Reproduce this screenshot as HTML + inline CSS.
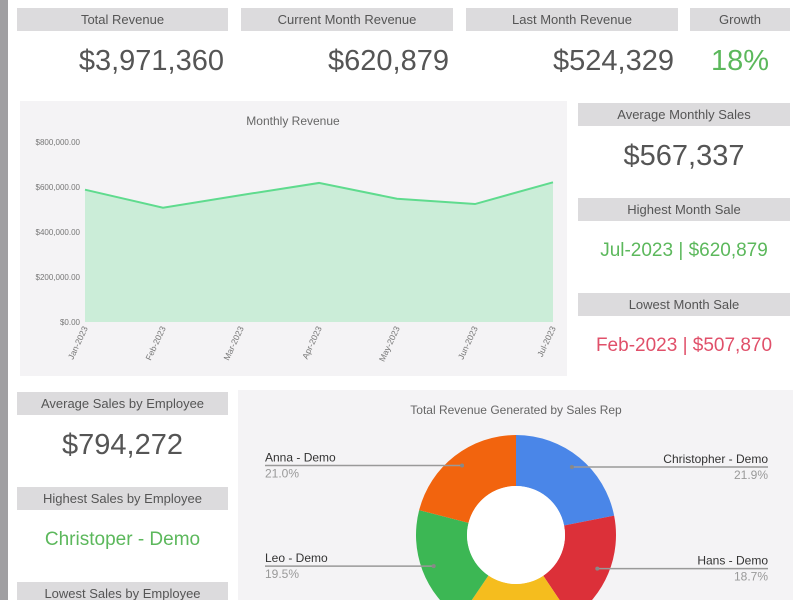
<!DOCTYPE html>
<html><head><meta charset="utf-8">
<style>
body{margin:0;width:800px;height:600px;overflow:hidden;background:#fff;font-family:"Liberation Sans",sans-serif;position:relative}
.strip{position:absolute;left:0;top:0;width:8px;height:600px;background:#a09fa2}
.hdr{position:absolute;height:23px;background:#dcdbdd;color:#555;font-size:13px;line-height:23px;text-align:center;overflow:hidden}
.val{position:absolute;font-size:29px;color:#555;line-height:32px}
.panel{position:absolute;background:#f4f3f5;overflow:hidden}
</style></head><body>
<div class="strip"></div>

<div class="hdr" style="left:17px;top:8px;width:211px">Total Revenue</div>
<div class="val" style="left:17px;top:45px;width:207px;text-align:right">$3,971,360</div>
<div class="hdr" style="left:241px;top:8px;width:212px">Current Month Revenue</div>
<div class="val" style="left:241px;top:45px;width:208px;text-align:right">$620,879</div>
<div class="hdr" style="left:466px;top:8px;width:212px">Last Month Revenue</div>
<div class="val" style="left:466px;top:45px;width:208px;text-align:right">$524,329</div>
<div class="hdr" style="left:690px;top:8px;width:100px">Growth</div>
<div class="val" style="left:690px;top:45px;width:100px;text-align:center;color:#5cb85c">18%</div>

<div class="hdr" style="left:578px;top:103px;width:212px">Average Monthly Sales</div>
<div class="val" style="left:578px;top:140px;width:212px;text-align:center">$567,337</div>
<div class="hdr" style="left:578px;top:198px;width:212px">Highest Month Sale</div>
<div class="val" style="left:578px;top:235px;width:212px;text-align:center;font-size:19px;color:#5cb85c">Jul-2023 | $620,879</div>
<div class="hdr" style="left:578px;top:293px;width:212px">Lowest Month Sale</div>
<div class="val" style="left:578px;top:330px;width:212px;text-align:center;font-size:19px;color:#e0506a">Feb-2023 | $507,870</div>

<div class="hdr" style="left:17px;top:392px;width:211px">Average Sales by Employee</div>
<div class="val" style="left:17px;top:429px;width:211px;text-align:center">$794,272</div>
<div class="hdr" style="left:17px;top:487px;width:211px">Highest Sales by Employee</div>
<div class="val" style="left:17px;top:524px;width:211px;text-align:center;font-size:19px;color:#5cb85c">Christoper - Demo</div>
<div class="hdr" style="left:17px;top:582px;width:211px;height:18px">Lowest Sales by Employee</div>

<div class="panel" style="left:20px;top:101px;width:547px;height:275px">
<svg id="area" width="547" height="275" style="position:absolute;left:0;top:0" font-family="Liberation Sans, sans-serif"></svg>
</div>
<div class="panel" style="left:238px;top:390px;width:555px;height:210px">
<svg id="donut" width="555" height="210" style="position:absolute;left:0;top:0" font-family="Liberation Sans, sans-serif"></svg>
</div>

<script>
const months=["Jan-2023","Feb-2023","Mar-2023","Apr-2023","May-2023","Jun-2023","Jul-2023"];
const revenue=[588000,507870,564000,618000,548000,524329,620879];
const yTicks=[0,200000,400000,600000,800000];
const reps=["Christopher - Demo","Hans - Demo","Other - Demo","Leo - Demo","Anna - Demo"];
const repShares=[21.9,18.7,18.9,19.5,21.0];
const repColors=["#4a86e8","#dc3039","#f5bd1e","#3cb754","#f2640e"];

const NS="http://www.w3.org/2000/svg";
function mk(p,t,a){const e=document.createElementNS(NS,t);for(const k in a)e.setAttribute(k,a[k]);p.appendChild(e);return e;}
(function(){
const s=document.getElementById('area');
const x0=65,x1=533,yb=221,yt=41,ymax=800000;
const X=i=>x0+(x1-x0)*i/(months.length-1);
const Y=v=>yb-(yb-yt)*v/ymax;
let t=mk(s,'text',{x:273,y:24,'text-anchor':'middle','font-size':12,fill:'#666'});t.textContent='Monthly Revenue';

yTicks.forEach(v=>{const l=mk(s,'text',{x:60,y:Y(v)+3,'text-anchor':'end','font-size':8,fill:'#777'});
l.textContent='$'+v.toLocaleString('en-US',{minimumFractionDigits:2});
});
let d='M'+X(0)+','+yb;revenue.forEach((v,i)=>d+=' L'+X(i)+','+Y(v));d+=' L'+X(revenue.length-1)+','+yb+'Z';
const a=mk(s,'path',{d:d,fill:'#cbedd8'});
const ln=mk(s,'polyline',{points:revenue.map((v,i)=>X(i)+','+Y(v)).join(' '),fill:'none',stroke:'#5fdb8e','stroke-width':2});

months.forEach((m,i)=>{const l=mk(s,'text',{x:X(i)+3,y:yb+6,'text-anchor':'end','font-size':8.5,fill:'#777',transform:'rotate(-65 '+(X(i)+3)+' '+(yb+6)+')'});
l.textContent=m;});
})();
(function(){
const s=document.getElementById('donut');
const cx=278,cy=145,R=100,r=49;
let t=mk(s,'text',{x:278,y:24,'text-anchor':'middle','font-size':12,fill:'#666'});t.textContent='Total Revenue Generated by Sales Rep';

const tot=repShares.reduce((a,b)=>a+b,0);let acc=0;
const P=(ang,rad)=>[cx+rad*Math.sin(ang),cy-rad*Math.cos(ang)];
const labels=[];
repShares.forEach((v,i)=>{const a0=acc/tot*2*Math.PI;acc+=v;const a1=acc/tot*2*Math.PI;const lg=(a1-a0)>Math.PI?1:0;
const p0=P(a0,R),p1=P(a1,R),q1=P(a1,r),q0=P(a0,r);
const sl=mk(s,'path',{d:`M${p0} A${R},${R} 0 ${lg} 1 ${p1} L${q1} A${r},${r} 0 ${lg} 0 ${q0}Z`,fill:repColors[i]});

if(i!==2)labels.push([i,v,(a0+a1)/2]);
});
mk(s,'circle',{cx:cx,cy:cy,r:r,fill:'#fff'});
labels.forEach(([i,v,mid])=>{
const pm=P(mid,88);const right=Math.sin(mid)>0;
const ex=right?530:27;
mk(s,'line',{x1:pm[0],y1:pm[1],x2:ex,y2:pm[1],stroke:'#999','stroke-width':1.5});
mk(s,'circle',{cx:pm[0],cy:pm[1],r:2,fill:'#888'});
const n=mk(s,'text',{x:ex,y:pm[1]-4,'text-anchor':right?'end':'start','font-size':12,fill:'#333'});n.textContent=reps[i];

const pc=mk(s,'text',{x:ex,y:pm[1]+12,'text-anchor':right?'end':'start','font-size':12,fill:'#999'});pc.textContent=v.toFixed(1)+'%';

});
})();
</script>
</body></html>
